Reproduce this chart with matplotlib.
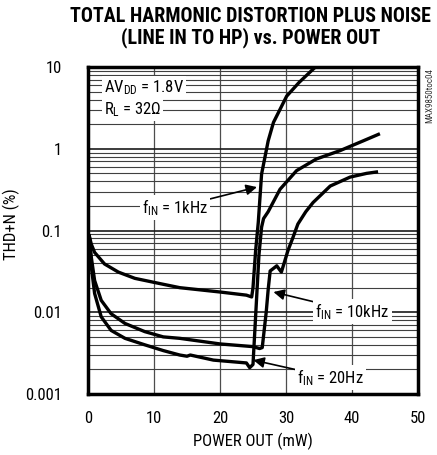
import numpy as np
import matplotlib
matplotlib.use("Agg")
import matplotlib.pyplot as plt
from matplotlib.ticker import LogLocator, NullFormatter

plt.rcParams["font.family"] = ["Roboto Condensed", "DejaVu Sans"]
plt.rcParams["mathtext.fontset"] = "custom"
plt.rcParams["mathtext.rm"] = "Roboto Condensed"
plt.rcParams["mathtext.default"] = "regular"

# Data
f1k_x = [0.2, 0.5, 1.0, 2.5, 4.6, 7.1, 11.4, 13.9, 20.0, 24.0, 24.8, 25.0, 25.4, 25.8, 26.3, 27.3, 28.1, 30.1, 32.0, 34.1, 35.0]
f1k_y = [0.085, 0.068, 0.054, 0.039, 0.031, 0.026, 0.022, 0.020, 0.0177, 0.0162, 0.0154, 0.02, 0.057, 0.126, 0.49, 1.25, 2.1, 4.4, 6.5, 9.4, 11.0]

f10k_x = [0.2, 0.5, 1.0, 2.0, 3.5, 5.6, 8.6, 11.4, 13.9, 20.0, 25.0, 26.0, 26.4, 27.0, 27.3, 27.6, 28.6, 29.3, 30.3, 31.0, 31.8, 33.0, 34.1, 36.7, 39.7, 42.2, 43.7]
f10k_y = [0.085, 0.047, 0.0245, 0.014, 0.0096, 0.0073, 0.0058, 0.005, 0.0048, 0.0041, 0.0038, 0.0036, 0.0037, 0.01, 0.019, 0.032, 0.037, 0.031, 0.057, 0.08, 0.12, 0.17, 0.22, 0.35, 0.45, 0.5, 0.52]

f20_x = [0.2, 0.5, 1.0, 2.0, 3.5, 5.6, 8.6, 11.4, 13.9, 15.0, 15.5, 19.0, 24.0, 24.5, 25.0, 25.9, 26.3, 26.6, 27.3, 29.1, 31.6, 34.6, 38.2, 41.7, 44.0]
f20_y = [0.085, 0.036, 0.017, 0.0088, 0.006, 0.0048, 0.0040, 0.0034, 0.0030, 0.0029, 0.0030, 0.0026, 0.0024, 0.0021, 0.0023, 0.05, 0.11, 0.14, 0.17, 0.32, 0.54, 0.75, 0.95, 1.25, 1.5]

y_ticks = [0.001, 0.01, 0.1, 1, 10]
y_labels = ["0.001", "0.01", "0.1", "1", "10"]
x_ticks = [0, 10, 20, 30, 40, 50]

fig = plt.figure(figsize=(4.37, 4.55), dpi=100)
ax = fig.add_axes([0.2014, 0.134, 0.7551, 0.7187])

ax.set_yscale("log")
ax.set_xlim(0, 50)
ax.set_ylim(0.001, 10)

# grid
ax.yaxis.set_minor_locator(LogLocator(base=10, subs=np.arange(2, 10)))
ax.yaxis.set_minor_formatter(NullFormatter())
ax.grid(True, which="minor", axis="y", color="0.25", lw=0.8)
ax.grid(True, which="major", axis="y", color="0.1", lw=1.2)
for xv in [10, 20, 30, 40]:
    ax.axvline(xv, color="0.3", lw=0.9, zorder=1)

# curves
for xs, ys in [(f1k_x, f1k_y), (f10k_x, f10k_y), (f20_x, f20_y)]:
    ax.plot(xs, ys, color="black", lw=2.4, solid_joinstyle="round", zorder=3)

ax.set_xticks(x_ticks)
ax.set_yticks(y_ticks)
ax.set_yticklabels(y_labels)
ax.tick_params(axis="both", which="both", length=0, labelsize=12)
ax.tick_params(axis="y", pad=19)
ax.tick_params(axis="x", pad=12)
for s in ax.spines.values():
    s.set_linewidth(2.5)

ax.set_xlabel("POWER OUT (mW)", fontsize=12, labelpad=5)
ax.set_ylabel("THD+N (%)", fontsize=12)
ax.yaxis.set_label_coords(-0.205, 0.52)

fig.text(0.574, 0.985, "TOTAL HARMONIC DISTORTION PLUS NOISE\n(LINE IN TO HP) vs. POWER OUT",
         ha="center", va="top", fontsize=14.4, fontweight="bold", linespacing=1.1)

# condition labels
box = dict(facecolor="white", edgecolor="none", pad=1.5)
ax.text(2.4, 5.6, r"AV$_{DD}$ = 1.8V", fontsize=12, va="center", ha="left", bbox=box, zorder=4)
ax.text(2.4, 3.0, r"R$_{L}$ = 32$\Omega$", fontsize=12, va="center", ha="left", bbox=box, zorder=4)

arrow = dict(arrowstyle="-|>", color="black", lw=1.2, mutation_scale=16, shrinkA=0, shrinkB=0)
ax.annotate(r"f$_{IN}$ = 1kHz", xy=(25.6, 0.34), xytext=(13.2, 0.19), fontsize=12,
            ha="center", va="center", bbox=box, arrowprops=arrow, zorder=4)
ax.annotate(r"f$_{IN}$ = 10kHz", xy=(28.1, 0.0177), xytext=(40.1, 0.0103), fontsize=12,
            ha="center", va="center", bbox=box, arrowprops=arrow, zorder=4)
ax.annotate(r"f$_{IN}$ = 20Hz", xy=(25.05, 0.0026), xytext=(36.7, 0.0016), fontsize=12,
            ha="center", va="center", bbox=box, arrowprops=arrow, zorder=4)

fig.text(0.984, 0.85, "MAX9850toc04", rotation=90, ha="center", va="top", fontsize=6.5, color="0.2")

fig.savefig("out.png", dpi=100)
